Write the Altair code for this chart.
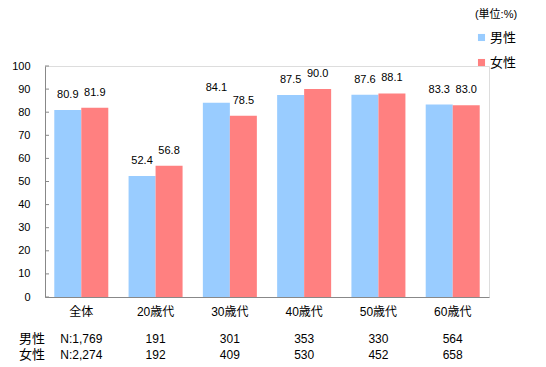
import altair as alt
import pandas as pd

categories = ["全体", "20歳代", "30歳代", "40歳代", "50歳代", "60歳代"]
series = ["男性", "女性"]
male = [80.9, 52.4, 84.1, 87.5, 87.6, 83.3]
female = [81.9, 56.8, 78.5, 90.0, 88.1, 83.0]
n_male = ["N:1,769", "191", "301", "353", "330", "564"]
n_female = ["N:2,274", "192", "409", "530", "452", "658"]
y_ticks = [0, 10, 20, 30, 40, 50, 60, 70, 80, 90, 100]
colors = ["#99CCFF", "#FF8080"]
unit_label = "(単位:%)"

rows = []
for c, m, f in zip(categories, male, female):
    rows.append({"cat": c, "series": series[0], "value": m, "label": f"{m:.1f}"})
    rows.append({"cat": c, "series": series[1], "value": f, "label": f"{f:.1f}"})
df = pd.DataFrame(rows)

n_df = pd.DataFrame({"cat": categories, "nm": n_male, "nf": n_female})
tick_df = pd.DataFrame({"v": y_ticks})

FONT = "Liberation Sans, Noto Sans CJK JP"
AXC = "#888888"

xscale = alt.Scale(domain=categories, paddingInner=0.273, paddingOuter=0.125)
xaxis = alt.Axis(title=None, labelAngle=0, ticks=False, labelPadding=9,
                 labelFontSize=12, labelColor="black", domainColor=AXC,
                 labelFont=FONT)
x = alt.X("cat:N", scale=xscale, sort=categories, axis=xaxis)
xoff = alt.XOffset("series:N", sort=series, scale=alt.Scale(domain=series, paddingInner=0, paddingOuter=0))
yscale = alt.Scale(domain=[0, 100], nice=False)
yaxis = alt.Axis(title=None, values=y_ticks, grid=False, ticks=False, tickSize=0,
                 domainColor=AXC, labelFontSize=11, labelColor="black", labelPadding=15,
                 labelOverlap=False, labelFont=FONT)

bars = alt.Chart(df).mark_bar().encode(
    x=x,
    xOffset=xoff,
    y=alt.Y("value:Q", scale=yscale, axis=yaxis),
    color=alt.Color("series:N", sort=series,
                    scale=alt.Scale(domain=series, range=colors),
                    legend=alt.Legend(title=None, orient="none", legendX=430, legendY=-35,
                                      symbolType="square", symbolSize=50,
                                      symbolStrokeWidth=0, labelFontSize=13,
                                      labelFont=FONT, rowPadding=11, padding=0,
                                      labelOffset=2, labelColor="black")),
)

ticks = alt.Chart(tick_df).mark_rule(color=AXC, strokeWidth=1).encode(
    y=alt.Y("v:Q", scale=yscale, axis=yaxis),
    x=alt.value(0), x2=alt.value(4),
)

labels = alt.Chart(df).mark_text(dy=-15, fontSize=11, font=FONT, color="black").encode(
    x=x,
    xOffset=xoff,
    y=alt.Y("value:Q", scale=yscale, axis=yaxis),
    text="label:N",
)

nm_text = alt.Chart(n_df).mark_text(fontSize=12, font=FONT, color="black").encode(
    x=x,
    y=alt.value(273),
    text="nm:N",
)
nf_text = alt.Chart(n_df).mark_text(fontSize=12, font=FONT, color="black").encode(
    x=x,
    y=alt.value(289),
    text="nf:N",
)
row_m = alt.Chart(pd.DataFrame({"t": [series[0]]})).mark_text(
    fontSize=13, font=FONT, color="black").encode(
    x=alt.value(-13), y=alt.value(273), text="t:N")
row_f = alt.Chart(pd.DataFrame({"t": [series[1]]})).mark_text(
    fontSize=13, font=FONT, color="black").encode(
    x=alt.value(-13), y=alt.value(289), text="t:N")
unit = alt.Chart(pd.DataFrame({"t": [unit_label]})).mark_text(
    fontSize=11, font=FONT, color="black").encode(
    x=alt.value(451), y=alt.value(-51), text="t:N")

chart = alt.layer(bars, ticks, labels, nm_text, nf_text, row_m, row_f, unit).properties(
    width=444, height=231,
    autosize=alt.AutoSizeParams(type="none"),
    padding={"left": 37, "top": 58, "right": 49, "bottom": 80},
).configure_view(stroke=None).configure(font=FONT)

chart.save("out.html", embed_options={"renderer": "svg", "actions": False})
